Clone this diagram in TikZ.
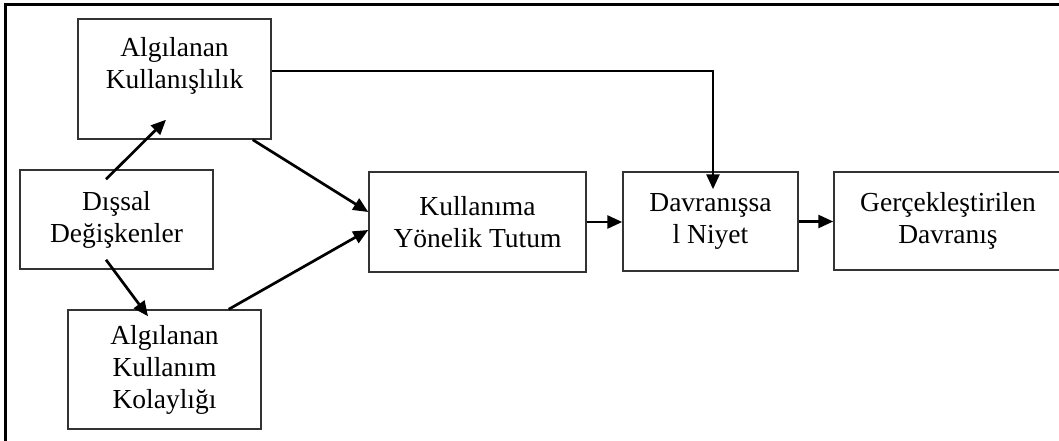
\documentclass[tikz,border=0pt]{standalone}
\usepackage{fontspec}
\setmainfont{Liberation Serif}
\usetikzlibrary{arrows.meta,calc}
\definecolor{boxline}{HTML}{333333}
\begin{document}
\begin{tikzpicture}[x=1pt,y=-1pt,
  box/.style={draw=boxline,line width=1.5pt,rectangle,inner sep=0pt,align=center,
    font=\fontsize{27.5}{32}\selectfont,text=black},
  arr/.style={line width=2.7pt,-{Triangle[length=15pt,width=13pt]}}]
\useasboundingbox (0,0) rectangle (1059,441);
% outer frame (only top and left edges visible)
\draw[line width=3pt] (5,450) -- (5,5) -- (1070,5);
% boxes
\node[box,minimum width=193pt,minimum height=120pt] (ak) at (174.5,79) {Algılanan\\Kullanışlılık\\\mbox{}};
\node[box,minimum width=193pt,minimum height=99pt] (dd) at (116.5,219.5) {Dışsal\\Değişkenler};
\node[box,minimum width=193pt,minimum height=119pt] (akk) at (164.5,369.5) {Algılanan\\Kullanım\\Kolaylığı};
\node[box,minimum width=217pt,minimum height=100pt] (kyt) at (477.5,222) {Kullanıma\\Yönelik Tutum};
\node[box,minimum width=175pt,minimum height=99pt] (dn) at (710.5,221.5) {Davranışsa\\l Niyet};
\node[box,minimum width=228pt,minimum height=98pt] (gd) at (948,221) {Gerçekleştirilen\\Davranış};
% connectors
\draw[arr] ([shift={(-10.5,10)}]dd.north) -- ([shift={(-8.5,-20)}]ak.south);
\draw[arr] ([shift={(-10.5,-10)}]dd.south) -- ([shift={(-16.5,7)}]akk.north);
\draw[arr] ([shift={(-19,0)}]ak.south east) -- ([shift={(0,-10)}]kyt.west);
\draw[arr] ([shift={(-33,0)}]akk.north east) -- ([shift={(0,8)}]kyt.west);
\draw[arr] ([shift={(0,-8)}]ak.east) -| ([shift={(2.5,18)}]dn.north);
\draw[arr] (kyt.east) -- (kyt.east -| dn.west);
\draw[arr] (dn.east) -- (dn.east -| gd.west);
\end{tikzpicture}
\end{document}
